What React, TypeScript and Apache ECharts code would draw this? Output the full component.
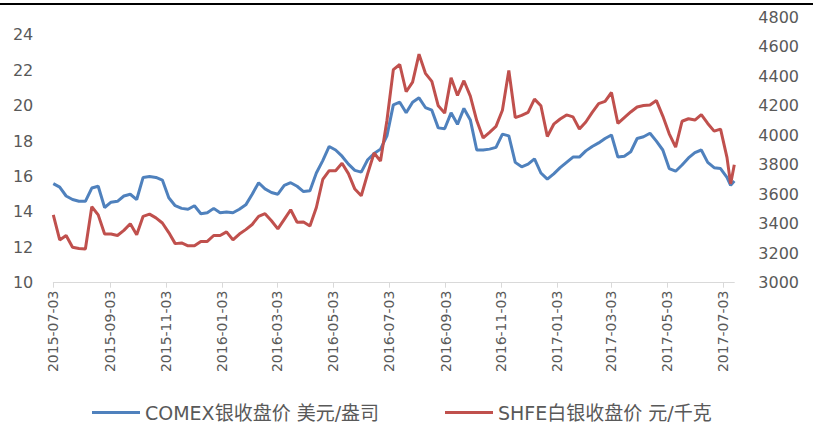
import React, { useEffect, useRef } from "react";
import * as echarts from "echarts";

// x positions: days since 2015-07-03 (weekly samples, plus the last few trading days)
const START_DATE = "2015-07-03";
const TOTAL_DAYS = 744; // 2015-07-03 .. 2017-07-15
const weeklyDays: number[] = Array.from({ length: 106 }, (_, i) => i * 7);
const tailDays: number[] = [739, 743];
const dayOffsets: number[] = [...weeklyDays, ...tailDays];

// COMEX silver close, USD/oz (left axis)
const comex: number[] = [
  15.6, 15.4, 14.9, 14.7, 14.6, 14.6, 15.35, 15.45, 14.25, 14.55,
  14.6, 14.9, 15.0, 14.7, 15.95, 16.0, 15.95, 15.8, 14.8, 14.35,
  14.2, 14.15, 14.35, 13.9, 13.95, 14.2, 13.95, 14.0, 13.95, 14.15,
  14.4, 15.0, 15.65, 15.3, 15.1, 15.0, 15.5, 15.65, 15.45, 15.15,
  15.2, 16.2, 16.9, 17.7, 17.5, 17.15, 16.7, 16.35, 16.25, 16.95,
  17.3, 17.55, 18.3, 20.05, 20.2, 19.6, 20.2, 20.45, 19.9, 19.75,
  18.75, 18.7, 19.6, 18.95, 19.85, 19.2, 17.5, 17.5, 17.55, 17.65,
  18.4, 18.3, 16.8, 16.55, 16.7, 17.0, 16.2, 15.85, 16.15, 16.5,
  16.8, 17.1, 17.1, 17.45, 17.7, 17.9, 18.15, 18.35, 17.1, 17.15,
  17.4, 18.15, 18.25, 18.45, 18.0, 17.5, 16.45, 16.3, 16.65, 17.05,
  17.35, 17.5, 16.8, 16.5, 16.45, 15.95,
  15.5, 15.75,
];

// SHFE silver close, CNY/kg (right axis)
const shfe: number[] = [
  3460, 3290, 3320, 3240, 3232, 3228, 3515, 3460, 3330, 3330,
  3320, 3355, 3400, 3325, 3450, 3465, 3440, 3405, 3340, 3265,
  3270, 3250, 3250, 3280, 3280, 3320, 3320, 3345, 3290, 3330,
  3360, 3395, 3450, 3468, 3420, 3365, 3430, 3495, 3410, 3412,
  3385, 3510, 3700, 3760, 3760, 3810, 3740, 3635, 3590, 3740,
  3880, 3825, 4100, 4445, 4480, 4295, 4360, 4550, 4420, 4365,
  4200, 4150, 4390, 4270, 4370, 4265, 4100, 3982, 4020, 4060,
  4170, 4440, 4120, 4135, 4155, 4245, 4200, 3992, 4075, 4110,
  4138, 4125, 4042, 4090, 4155, 4215, 4230, 4290, 4080, 4120,
  4158, 4192, 4202, 4205, 4235, 4130, 4010, 3920, 4095, 4112,
  4103, 4140, 4080, 4028, 4042, 3850,
  3670, 3800,
];

const seriesNames = ["COMEX银收盘价 美元/盎司", "SHFE白银收盘价 元/千克"];
const colors = ["#4F81BD", "#C0504D"];

function dayToLabel(d: number): string {
  const [y, m, dd] = START_DATE.split("-").map(Number);
  const t = new Date(Date.UTC(y, m - 1, dd + d));
  const mm = String(t.getUTCMonth() + 1).padStart(2, "0");
  const ds = String(t.getUTCDate()).padStart(2, "0");
  return `${t.getUTCFullYear()}-${mm}-${ds}`;
}

const categories: string[] = Array.from({ length: TOTAL_DAYS }, (_, i) => dayToLabel(i));

function spread(values: number[]): (number | null)[] {
  const arr: (number | null)[] = new Array(TOTAL_DAYS).fill(null);
  dayOffsets.forEach((d, k) => {
    arr[d] = values[k];
  });
  return arr;
}

const isTickDay = (index: number, value?: string): boolean => {
  const v = value ?? categories[index];
  const month = Number(v.slice(5, 7));
  return v.slice(8, 10) === "03" && month % 2 === 1;
};

export default function App() {
  const ref = useRef<HTMLDivElement>(null);

  useEffect(() => {
    if (!ref.current) return;
    const chart = echarts.init(ref.current, null, { renderer: "svg" });
    const labelColor = "#595959";
    const font = "'DejaVu Sans', 'Noto Sans CJK SC', sans-serif";
    const legendText = { color: labelColor, fontSize: 19, fontFamily: font };
    chart.setOption({
      animation: false,
      backgroundColor: "#ffffff",
      grid: { left: 53.3, right: 90.7, top: 17.3, bottom: 139.3, containLabel: false },
      graphic: [
        {
          type: "rect",
          left: 0,
          top: 3,
          shape: { width: 813, height: 2 },
          style: { fill: "#000000" },
          silent: true,
        },
      ],
      legend: [
        {
          data: [seriesNames[0]],
          left: 87,
          top: 398,
          icon: "rect",
          itemWidth: 48,
          itemHeight: 3,
          textStyle: legendText,
        },
        {
          data: [seriesNames[1]],
          left: 440,
          top: 398,
          icon: "rect",
          itemWidth: 48,
          itemHeight: 3,
          textStyle: legendText,
        },
      ],
      xAxis: {
        type: "category",
        data: categories,
        boundaryGap: false,
        axisLine: { show: true, lineStyle: { color: "#D9D9D9", width: 1 } },
        axisTick: {
          show: true,
          interval: isTickDay,
          length: 5,
          lineStyle: { color: "#D9D9D9" },
        },
        axisLabel: {
          interval: isTickDay,
          rotate: 90,
          margin: 8,
          color: labelColor,
          fontSize: 14,
          fontFamily: font,
        },
        splitLine: { show: false },
      },
      yAxis: [
        {
          type: "value",
          min: 10,
          max: 25,
          interval: 2,
          axisLine: { show: false },
          axisTick: { show: false },
          splitLine: { show: false },
          axisLabel: {
            showMaxLabel: false,
            margin: 20,
            color: labelColor,
            fontSize: 16,
            fontFamily: font,
            formatter: (v: number) => String(v),
          },
        },
        {
          type: "value",
          min: 3000,
          max: 4800,
          interval: 200,
          position: "right",
          axisLine: { show: false },
          axisTick: { show: false },
          splitLine: { show: false },
          axisLabel: {
            margin: 24,
            color: labelColor,
            fontSize: 16,
            fontFamily: font,
            formatter: (v: number) => String(v),
          },
        },
      ],
      series: [
        {
          name: seriesNames[0],
          type: "line",
          yAxisIndex: 0,
          data: spread(comex),
          connectNulls: true,
          showSymbol: false,
          symbol: "none",
          color: colors[0],
          lineStyle: { color: colors[0], width: 3 },
        },
        {
          name: seriesNames[1],
          type: "line",
          yAxisIndex: 1,
          data: spread(shfe),
          connectNulls: true,
          showSymbol: false,
          symbol: "none",
          color: colors[1],
          lineStyle: { color: colors[1], width: 3 },
        },
      ],
    });
    return () => chart.dispose();
  }, []);

  return (
    <div
      ref={ref}
      style={{ position: "absolute", left: 0, top: 0, width: 825, height: 422 }}
    />
  );
}
